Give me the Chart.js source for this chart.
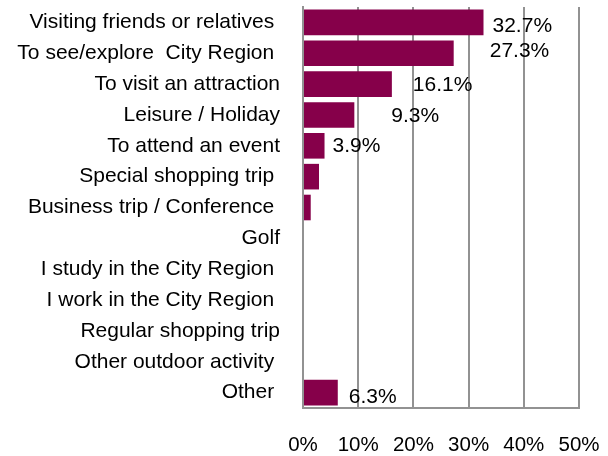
<!DOCTYPE html>
<html>
<head>
<meta charset="utf-8">
<script src="https://cdn.jsdelivr.net/npm/chart.js@4/dist/chart.umd.min.js"></script>
<style>
  html, body { margin:0; padding:0; background:#fff; }
  #wrap { width:608px; height:456px; position:relative; }
</style>
</head>
<body>
<div id="wrap"><canvas id="c"></canvas></div>
<script>
// categories (trailing spaces as in the original labels)
var reasons = [
  'Visiting friends or relatives ',
  'To see/explore  City Region ',
  'To visit an attraction',
  'Leisure / Holiday',
  'To attend an event',
  'Special shopping trip ',
  'Business trip / Conference ',
  'Golf',
  'I study in the City Region ',
  'I work in the City Region ',
  'Regular shopping trip',
  'Other outdoor activity ',
  'Other '
];
var shares = [32.7, 27.3, 16.1, 9.3, 3.9, 2.9, 1.4, 0, 0, 0, 0, 0, 6.3];
var showLabel = [true, true, true, true, true, false, false, false, false, false, false, false, true];
var axisTicks = [0, 10, 20, 30, 40, 50];

// label nudges in px (x from bar end, y from bar centre)
var nudgeX = [9, 36, 21, 37, 8, 0, 0, 0, 0, 0, 0, 0, 11];
var nudgeY = [4, -2, 1, 1, 0, 0, 0, 0, 0, 0, 0, 0, 5];

var FONT = "'Liberation Sans', Arial, sans-serif";
var GRID = '#929292';

var barLabels = {
  id: 'barLabels',
  afterDatasetsDraw: function(chart){
    var ctx = chart.ctx;
    var meta = chart.getDatasetMeta(0);
    ctx.save();
    ctx.font = '21px ' + FONT;
    ctx.fillStyle = '#000';
    ctx.textAlign = 'left';
    ctx.textBaseline = 'middle';
    meta.data.forEach(function(bar, i){
      if(!showLabel[i]) return;
      ctx.fillText(shares[i].toFixed(1) + '%', bar.x + nudgeX[i], bar.y + nudgeY[i]);
    });
    ctx.restore();
  }
};

new Chart(document.getElementById('c'), {
  type: 'bar',
  data: {
    labels: reasons,
    datasets: [{
      data: shares,
      backgroundColor: '#86004a',
      borderWidth: 0,
      categoryPercentage: 1,
      barPercentage: 0.83
    }]
  },
  options: {
    indexAxis: 'y',
    responsive: true,
    maintainAspectRatio: false,
    animation: false,
    layout: { padding: { top: 7, right: 29, left: 0, bottom: 0 } },
    plugins: { legend: { display: false }, tooltip: { enabled: false } },
    scales: {
      x: {
        min: 0, max: 50,
        afterBuildTicks: function(scale){ scale.ticks = axisTicks.map(function(v){ return {value: v}; }); },
        afterFit: function(scale){
          scale.height = 48;
          scale.paddingLeft = 0; scale.paddingRight = 0;
          scale.paddingTop = 0; scale.paddingBottom = 0;
        },
        ticks: {
          color: '#000',
          font: { family: FONT, size: 20.5 },
          padding: 25,
          maxRotation: 0,
          callback: function(v){ return v + '%'; }
        },
        grid: { color: GRID, lineWidth: 2, drawTicks: false },
        border: { display: true, color: GRID, width: 2 }
      },
      y: {
        afterFit: function(scale){
          scale.width = 303;
          scale.paddingLeft = 0; scale.paddingRight = 0;
          scale.paddingTop = 0; scale.paddingBottom = 0;
        },
        ticks: {
          color: '#000',
          autoSkip: false,
          font: { family: FONT, size: 21 },
          padding: 23
        },
        grid: { display: false, drawTicks: false },
        border: { display: true, color: GRID, width: 2 }
      }
    }
  },
  plugins: [barLabels]
});
</script>
</body>
</html>
